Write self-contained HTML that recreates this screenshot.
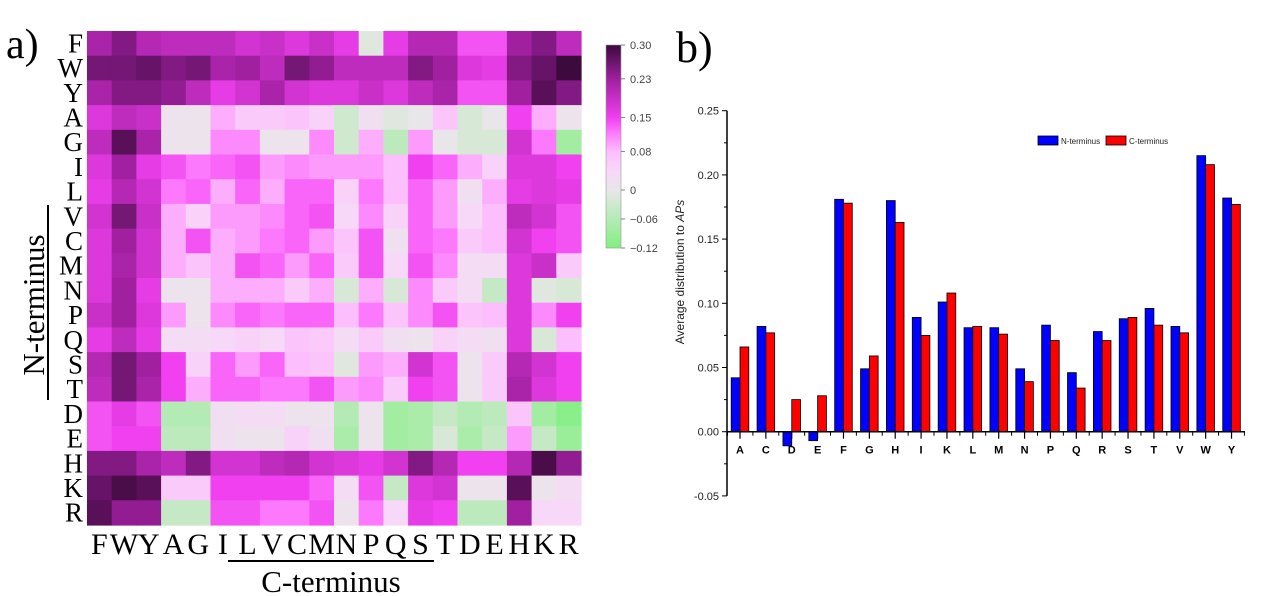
<!DOCTYPE html>
<html><head><meta charset="utf-8"><style>
html,body{margin:0;padding:0;background:#fff;}
svg{display:block;}
.serif{font-family:"Liberation Serif",serif;fill:#000;}
.sans{font-family:"Liberation Sans",sans-serif;}
</style></head><body>
<svg id="fig" width="1268" height="596" viewBox="0 0 1268 596" xmlns="http://www.w3.org/2000/svg">
<text class="serif" x="6" y="58" font-size="42">a)</text>
<text class="serif" x="676" y="62" font-size="44">b)</text>
<g id="heat"></g>
<g id="rowlabels"></g>
<g id="collabels"></g>
<line x1="48" y1="205" x2="48" y2="400" stroke="#000" stroke-width="2"/>
<text class="serif" font-size="31" text-anchor="middle" transform="translate(44,305) rotate(-90)">N-terminus</text>
<line x1="228" y1="561" x2="434" y2="561" stroke="#000" stroke-width="2"/>
<text class="serif" font-size="31" x="331" y="592" text-anchor="middle">C-terminus</text>
<g id="cbar"></g>
<g id="bars"></g>
</svg>
<script>
// ---------- Heatmap data ----------
const aaRows = ["F","W","Y","A","G","I","L","V","C","M","N","P","Q","S","T","D","E","H","K","R"];
const aaCols = ["F","W","Y","A","G","I","L","V","C","M","N","P","Q","S","T","D","E","H","K","R"];
const heatValues = [
[.22,.25,.21,.2,.2,.2,.18,.19,.17,.19,.16,-.01,.16,.21,.21,.14,.14,.23,.25,.2],
[.26,.26,.27,.25,.26,.22,.23,.2,.26,.24,.2,.2,.2,.25,.23,.17,.16,.25,.27,.3],
[.22,.25,.25,.24,.2,.16,.18,.22,.18,.17,.17,.19,.17,.2,.22,.14,.14,.23,.28,.25],
[.17,.2,.19,.01,.01,.09,.06,.06,.07,.05,-.03,.02,-.01,0,.07,-.02,0,.15,.09,.01],
[.2,.28,.22,.01,.01,.11,.11,.01,.01,.11,-.03,.09,-.05,.1,0,-.02,-.02,.18,.12,-.08],
[.17,.23,.16,.14,.12,.13,.14,.1,.11,.1,.1,.1,.08,.15,.13,.09,.05,.17,.17,.15],
[.16,.21,.18,.12,.13,.09,.13,.09,.13,.13,.05,.12,.08,.13,.1,.02,.09,.16,.17,.16],
[.18,.26,.19,.09,.05,.1,.1,.11,.13,.14,.04,.11,.05,.13,.1,.04,.08,.2,.18,.14],
[.17,.23,.18,.09,.14,.09,.1,.12,.13,.1,.07,.14,.02,.13,.12,.06,.08,.18,.15,.14],
[.17,.22,.18,.09,.07,.09,.14,.13,.1,.13,.06,.14,.04,.14,.11,.03,.03,.17,.19,.06],
[.17,.23,.16,.01,.01,.09,.09,.09,.06,.09,-.02,.09,-.02,.11,.06,.03,-.04,.17,-.01,-.02],
[.19,.23,.17,.1,.01,.11,.13,.12,.13,.13,.08,.12,.07,.11,.14,.07,.08,.17,.11,.15],
[.16,.2,.16,.03,.03,.04,.05,.04,.07,.06,.03,.06,.02,.01,.05,.03,.02,.17,-.02,.08],
[.21,.26,.23,.15,.05,.13,.1,.13,.08,.07,-.01,.1,.09,.18,.14,.01,.06,.21,.18,.15],
[.2,.26,.22,.15,.09,.13,.13,.12,.12,.14,.1,.11,.06,.15,.14,.01,.06,.22,.17,.15],
[.14,.16,.14,-.06,-.06,.02,.03,.03,.01,.01,-.06,.01,-.08,-.07,-.04,-.06,-.05,.07,-.08,-.11],
[.14,.15,.15,-.05,-.05,.02,.01,.01,.05,.02,-.07,.01,-.08,-.07,-.02,-.07,-.04,.1,-.04,-.09],
[.25,.25,.22,.2,.25,.18,.18,.2,.21,.18,.17,.16,.18,.25,.21,.15,.15,.21,.29,.24],
[.27,.29,.28,.06,.06,.15,.15,.15,.15,.13,.03,.14,-.04,.17,.18,.01,.01,.28,.01,.03],
[.28,.24,.24,-.04,-.04,.14,.14,.12,.12,.14,.01,.12,.04,.16,.15,-.05,-.05,.23,.04,.04]
];
const cbarTicks = [0.30,0.23,0.15,0.08,0,-0.06,-0.12];
const cbarTickLabels = ["0.30","0.23","0.15","0.08","0","\u22120.06","\u22120.12"];

// ---------- Bar data ----------
const barCats = ["A","C","D","E","F","G","H","I","K","L","M","N","P","Q","R","S","T","V","W","Y"];
const nTerm = [.042,.082,-.011,-.007,.181,.049,.180,.089,.101,.081,.081,.049,.083,.046,.078,.088,.096,.082,.215,.182];
const cTerm = [.066,.077,.025,.028,.178,.059,.163,.075,.108,.082,.076,.039,.071,.034,.071,.089,.083,.077,.208,.177];
const yTicks = [-0.05,0,0.05,0.10,0.15,0.20,0.25];
const yTickLabels = ["-0.05","0.00","0.05","0.10","0.15","0.20","0.25"];

const NS="http://www.w3.org/2000/svg";
function mk(tag,attrs,parent,text){const e=document.createElementNS(NS,tag);for(const k in attrs)e.setAttribute(k,attrs[k]);if(text!==undefined)e.textContent=text;parent.appendChild(e);return e;}

const stops=[[-0.12,[128,240,128]],[0,[232,230,232]],[0.04,[248,216,248]],[0.08,[252,190,252]],[0.12,[252,120,252]],[0.15,[240,64,240]],[0.23,[160,32,160]],[0.30,[60,10,60]]];
function color(v){
  if(v<=stops[0][0])return `rgb(${stops[0][1]})`;
  for(let i=1;i<stops.length;i++){if(v<=stops[i][0]){const a=stops[i-1],b=stops[i];const t=(v-a[0])/(b[0]-a[0]);const c=a[1].map((x,j)=>Math.round(x+(b[1][j]-x)*t));return `rgb(${c.join(',')})`;}}
  return `rgb(${stops[stops.length-1][1]})`;
}
const hx0=87,hy0=31,cw=24.7,ch=24.7;
const hx=i=>hx0+i*cw, hy=j=>hy0+j*ch;
const heat=document.getElementById('heat');
heatValues.forEach((row,r)=>row.forEach((v,c)=>{
  const el=mk('rect',{x:hx(c),y:hy(r),width:cw+0.6,height:ch+0.6,fill:color(v)},heat);
  
  
}));
const rl=document.getElementById('rowlabels');
aaRows.forEach((a,r)=>{const t=mk('text',{class:'serif',x:83,y:hy(r)+ch/2+9,'font-size':27,'text-anchor':'end'},rl,a);
  });
const cl=document.getElementById('collabels');
aaCols.forEach((a,c)=>{const t=mk('text',{class:'serif',x:hx(c)+cw/2,y:554,'font-size':30,'text-anchor':'middle'},cl,a);
  });

const cb=document.getElementById('cbar');
const cbTop=45,cbBot=248,cbX=606,cbW=15;
const cy=v=>cbBot-(v+0.12)/0.42*(cbBot-cbTop);
for(let y=cbTop;y<cbBot;y++){const v=0.30-(y-cbTop)/(cbBot-cbTop)*0.42;
  const s=mk('rect',{x:cbX,y:y,width:cbW,height:1.2,fill:color(v)},cb);
  }
mk('rect',{x:cbX,y:cbTop,width:cbW,height:cbBot-cbTop,fill:'none',stroke:'#999','stroke-width':0.6},cb);
cbarTicks.forEach((v,i)=>{const y=cy(v);
  mk('line',{x1:cbX+cbW,x2:cbX+cbW+4,y1:y,y2:y,stroke:'#666','stroke-width':0.8},cb);
  const t=mk('text',{class:'sans',x:630,y:y+4,'font-size':11,fill:'#444'},cb,cbarTickLabels[i]);
  });

const bg=document.getElementById('bars');
const ax0=727, zeroY=431.7, pxPer=64.2/0.05;
const by=v=>zeroY-v*pxPer;
const catX=i=>740+i*25.87;
const bw=8.8;
nTerm.forEach((v,i)=>{const y=Math.min(by(v),zeroY);const h=Math.abs(by(v)-zeroY);
  const r=mk('rect',{x:catX(i)-bw,y:y,width:bw,height:h,fill:'#0000ff',stroke:'#000','stroke-width':0.8},bg);
  });
cTerm.forEach((v,i)=>{const y=Math.min(by(v),zeroY);const h=Math.abs(by(v)-zeroY);
  const r=mk('rect',{x:catX(i),y:y,width:bw,height:h,fill:'#ff0000',stroke:'#000','stroke-width':0.8},bg);
  });
mk('line',{x1:ax0,x2:ax0,y1:by(0.25),y2:by(-0.05),stroke:'#000','stroke-width':1.5},bg);
mk('line',{x1:ax0,x2:1245,y1:zeroY,y2:zeroY,stroke:'#000','stroke-width':1.5},bg);
yTicks.forEach((v,i)=>{const y=by(v);
  mk('line',{x1:ax0-5,x2:ax0,y1:y,y2:y,stroke:'#000','stroke-width':1},bg);
  const t=mk('text',{class:'sans',x:ax0-8,y:y+4,'font-size':11,'text-anchor':'end',fill:'#222'},bg,yTickLabels[i]);
  
  if(i<yTicks.length-1){const ym=by(v+0.025);mk('line',{x1:ax0-3,x2:ax0,y1:ym,y2:ym,stroke:'#000','stroke-width':1},bg);}
});
barCats.forEach((c,i)=>{const x=catX(i);
  mk('line',{x1:x,x2:x,y1:zeroY,y2:zeroY+7,stroke:'#000','stroke-width':1.2},bg);
  mk('line',{x1:x+12.9,x2:x+12.9,y1:zeroY,y2:zeroY+4,stroke:'#000','stroke-width':1},bg);
  const t=mk('text',{class:'sans',x:x,y:zeroY+22,'font-size':11,'font-weight':'bold','text-anchor':'middle'},bg,c);
  });
mk('line',{x1:ax0+0.5,x2:ax0+0.5,y1:zeroY,y2:zeroY+4,stroke:'#000'},bg);
const yt=mk('text',{class:'sans','font-size':12,'text-anchor':'middle',transform:'translate(684,272) rotate(-90)',fill:'#222'},bg);

yt.innerHTML='Average distribution to <tspan font-style="italic">APs</tspan>';
const lg=mk('g',{},bg);

mk('rect',{x:1038,y:136,width:20,height:9,fill:'#0000ff',stroke:'#000','stroke-width':0.8},lg);
mk('text',{class:'sans',x:1061,y:144,'font-size':8,fill:'#222'},lg,'N-terminus');
mk('rect',{x:1106,y:136,width:20,height:9,fill:'#ff0000',stroke:'#000','stroke-width':0.8},lg);
mk('text',{class:'sans',x:1129,y:144,'font-size':8,fill:'#222'},lg,'C-terminus');
</script>
</body></html>
